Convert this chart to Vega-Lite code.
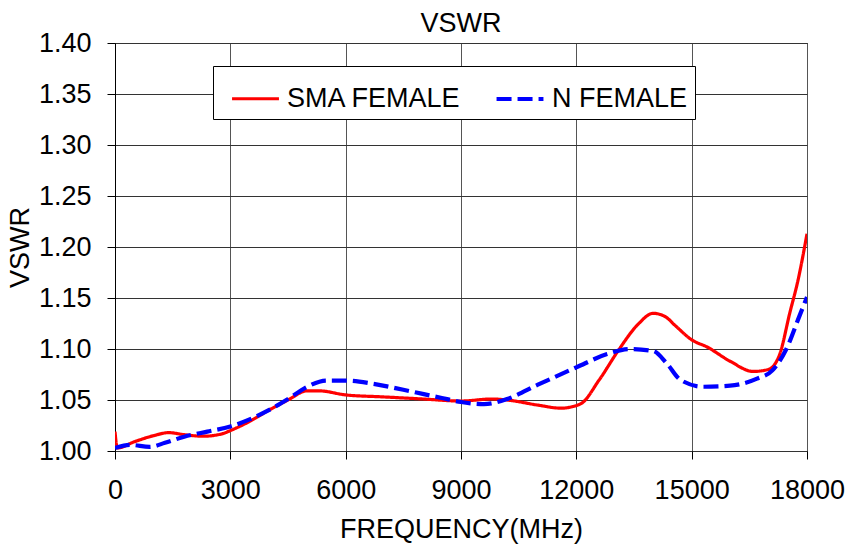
{
  "$schema": "https://vega.github.io/schema/vega-lite/v6.json",
  "width": 692,
  "height": 408,
  "autosize": {"type": "none"},
  "padding": {"left": 115, "top": 43, "right": 43, "bottom": 102},
  "background": "white",
  "config": {
    "font": "Liberation Sans",
    "view": {"stroke": "black", "strokeWidth": 1}
  },
  "title": {"text": "VSWR", "fontSize": 27, "fontWeight": "normal", "font": "Liberation Sans", "color": "black", "offset": -9},
  "data": {"values": [
    {"f": 0, "v": 1.019, "s": "SMA FEMALE"},
    {"f": 60, "v": 1.003, "s": "SMA FEMALE"},
    {"f": 500, "v": 1.009, "s": "SMA FEMALE"},
    {"f": 1000, "v": 1.015, "s": "SMA FEMALE"},
    {"f": 1400, "v": 1.018, "s": "SMA FEMALE"},
    {"f": 1800, "v": 1.016, "s": "SMA FEMALE"},
    {"f": 2300, "v": 1.0145, "s": "SMA FEMALE"},
    {"f": 2800, "v": 1.017, "s": "SMA FEMALE"},
    {"f": 3000, "v": 1.02, "s": "SMA FEMALE"},
    {"f": 3500, "v": 1.029, "s": "SMA FEMALE"},
    {"f": 4000, "v": 1.04, "s": "SMA FEMALE"},
    {"f": 4500, "v": 1.05, "s": "SMA FEMALE"},
    {"f": 5000, "v": 1.059, "s": "SMA FEMALE"},
    {"f": 5300, "v": 1.059, "s": "SMA FEMALE"},
    {"f": 6000, "v": 1.055, "s": "SMA FEMALE"},
    {"f": 7000, "v": 1.053, "s": "SMA FEMALE"},
    {"f": 8000, "v": 1.051, "s": "SMA FEMALE"},
    {"f": 9000, "v": 1.049, "s": "SMA FEMALE"},
    {"f": 9800, "v": 1.051, "s": "SMA FEMALE"},
    {"f": 10200, "v": 1.05, "s": "SMA FEMALE"},
    {"f": 11000, "v": 1.045, "s": "SMA FEMALE"},
    {"f": 11600, "v": 1.042, "s": "SMA FEMALE"},
    {"f": 12100, "v": 1.046, "s": "SMA FEMALE"},
    {"f": 12600, "v": 1.07, "s": "SMA FEMALE"},
    {"f": 13100, "v": 1.099, "s": "SMA FEMALE"},
    {"f": 13600, "v": 1.124, "s": "SMA FEMALE"},
    {"f": 14000, "v": 1.135, "s": "SMA FEMALE"},
    {"f": 14300, "v": 1.132, "s": "SMA FEMALE"},
    {"f": 14600, "v": 1.122, "s": "SMA FEMALE"},
    {"f": 15000, "v": 1.109, "s": "SMA FEMALE"},
    {"f": 15400, "v": 1.102, "s": "SMA FEMALE"},
    {"f": 16000, "v": 1.088, "s": "SMA FEMALE"},
    {"f": 16600, "v": 1.078, "s": "SMA FEMALE"},
    {"f": 17000, "v": 1.08, "s": "SMA FEMALE"},
    {"f": 17300, "v": 1.096, "s": "SMA FEMALE"},
    {"f": 17550, "v": 1.135, "s": "SMA FEMALE"},
    {"f": 17770, "v": 1.168, "s": "SMA FEMALE"},
    {"f": 18000, "v": 1.213, "s": "SMA FEMALE"},
    {"f": 0, "v": 1.003, "s": "N FEMALE"},
    {"f": 400, "v": 1.006, "s": "N FEMALE"},
    {"f": 900, "v": 1.004, "s": "N FEMALE"},
    {"f": 1300, "v": 1.008, "s": "N FEMALE"},
    {"f": 1800, "v": 1.014, "s": "N FEMALE"},
    {"f": 2400, "v": 1.019, "s": "N FEMALE"},
    {"f": 3000, "v": 1.024, "s": "N FEMALE"},
    {"f": 3500, "v": 1.031, "s": "N FEMALE"},
    {"f": 4000, "v": 1.04, "s": "N FEMALE"},
    {"f": 4500, "v": 1.051, "s": "N FEMALE"},
    {"f": 5000, "v": 1.063, "s": "N FEMALE"},
    {"f": 5500, "v": 1.069, "s": "N FEMALE"},
    {"f": 6000, "v": 1.069, "s": "N FEMALE"},
    {"f": 6700, "v": 1.066, "s": "N FEMALE"},
    {"f": 7500, "v": 1.06, "s": "N FEMALE"},
    {"f": 8000, "v": 1.056, "s": "N FEMALE"},
    {"f": 8500, "v": 1.052, "s": "N FEMALE"},
    {"f": 9000, "v": 1.048, "s": "N FEMALE"},
    {"f": 9600, "v": 1.046, "s": "N FEMALE"},
    {"f": 10200, "v": 1.051, "s": "N FEMALE"},
    {"f": 11000, "v": 1.065, "s": "N FEMALE"},
    {"f": 12000, "v": 1.082, "s": "N FEMALE"},
    {"f": 12800, "v": 1.095, "s": "N FEMALE"},
    {"f": 13400, "v": 1.1, "s": "N FEMALE"},
    {"f": 14000, "v": 1.098, "s": "N FEMALE"},
    {"f": 14350, "v": 1.086, "s": "N FEMALE"},
    {"f": 14700, "v": 1.07, "s": "N FEMALE"},
    {"f": 15300, "v": 1.063, "s": "N FEMALE"},
    {"f": 16000, "v": 1.064, "s": "N FEMALE"},
    {"f": 16700, "v": 1.071, "s": "N FEMALE"},
    {"f": 17100, "v": 1.079, "s": "N FEMALE"},
    {"f": 17450, "v": 1.099, "s": "N FEMALE"},
    {"f": 17800, "v": 1.132, "s": "N FEMALE"},
    {"f": 18000, "v": 1.151, "s": "N FEMALE"}
  ]},
  "mark": {"type": "line", "interpolate": "monotone", "clip": true},
  "encoding": {
    "x": {
      "field": "f", "type": "quantitative",
      "scale": {"domain": [0, 18000], "nice": false},
      "axis": {
        "title": "FREQUENCY(MHz)", "values": [0, 3000, 6000, 9000, 12000, 15000, 18000],
        "format": "d", "grid": true, "gridColor": "#555", "gridOpacity": 1, "gridWidth": 1,
        "domain": false, "ticks": true, "tickColor": "black", "tickSize": 8,
        "labelFontSize": 27, "labelColor": "black",
        "labelPadding": 18, "titleFontSize": 27, "titleFontWeight": "normal", "titleColor": "black",
        "titlePadding": 13, "labelFlush": false
      }
    },
    "y": {
      "field": "v", "type": "quantitative",
      "scale": {"domain": [1.0, 1.4], "nice": false, "zero": false},
      "axis": {
        "title": "VSWR", "values": [1.0, 1.05, 1.1, 1.15, 1.2, 1.25, 1.3, 1.35, 1.4],
        "format": ".2f", "grid": true, "gridColor": "#333", "gridOpacity": 1, "gridWidth": 1,
        "domain": true, "domainColor": "black", "ticks": true, "tickColor": "black", "tickSize": 8,
        "labelFontSize": 27, "labelColor": "black", "labelPadding": 16,
        "titleFontSize": 27, "titleFontWeight": "normal", "titleColor": "black", "titlePadding": 4
      }
    },
    "color": {
      "field": "s", "type": "nominal",
      "scale": {"domain": ["SMA FEMALE", "N FEMALE"], "range": ["#ff0000", "#0000ff"]},
      "legend": {
        "title": null, "orient": "none", "legendX": 98, "legendY": 23, "direction": "horizontal",
        "strokeColor": "black", "fillColor": "white", "padding": 7,
        "labelFontSize": 27, "labelColor": "black", "labelLimit": 400, "symbolType": "stroke", "symbolSize": 2200,
        "symbolStrokeWidth": 3.5, "symbolOffset": 10, "columnPadding": 22, "labelOffset": 6
      }
    },
    "strokeDash": {
      "field": "s", "type": "nominal",
      "scale": {"domain": ["SMA FEMALE", "N FEMALE"], "range": [[1, 0], [15, 6]]},
      "legend": null
    },
    "strokeWidth": {
      "field": "s", "type": "nominal",
      "scale": {"domain": ["SMA FEMALE", "N FEMALE"], "range": [3.2, 4.2]},
      "legend": null
    }
  }
}
